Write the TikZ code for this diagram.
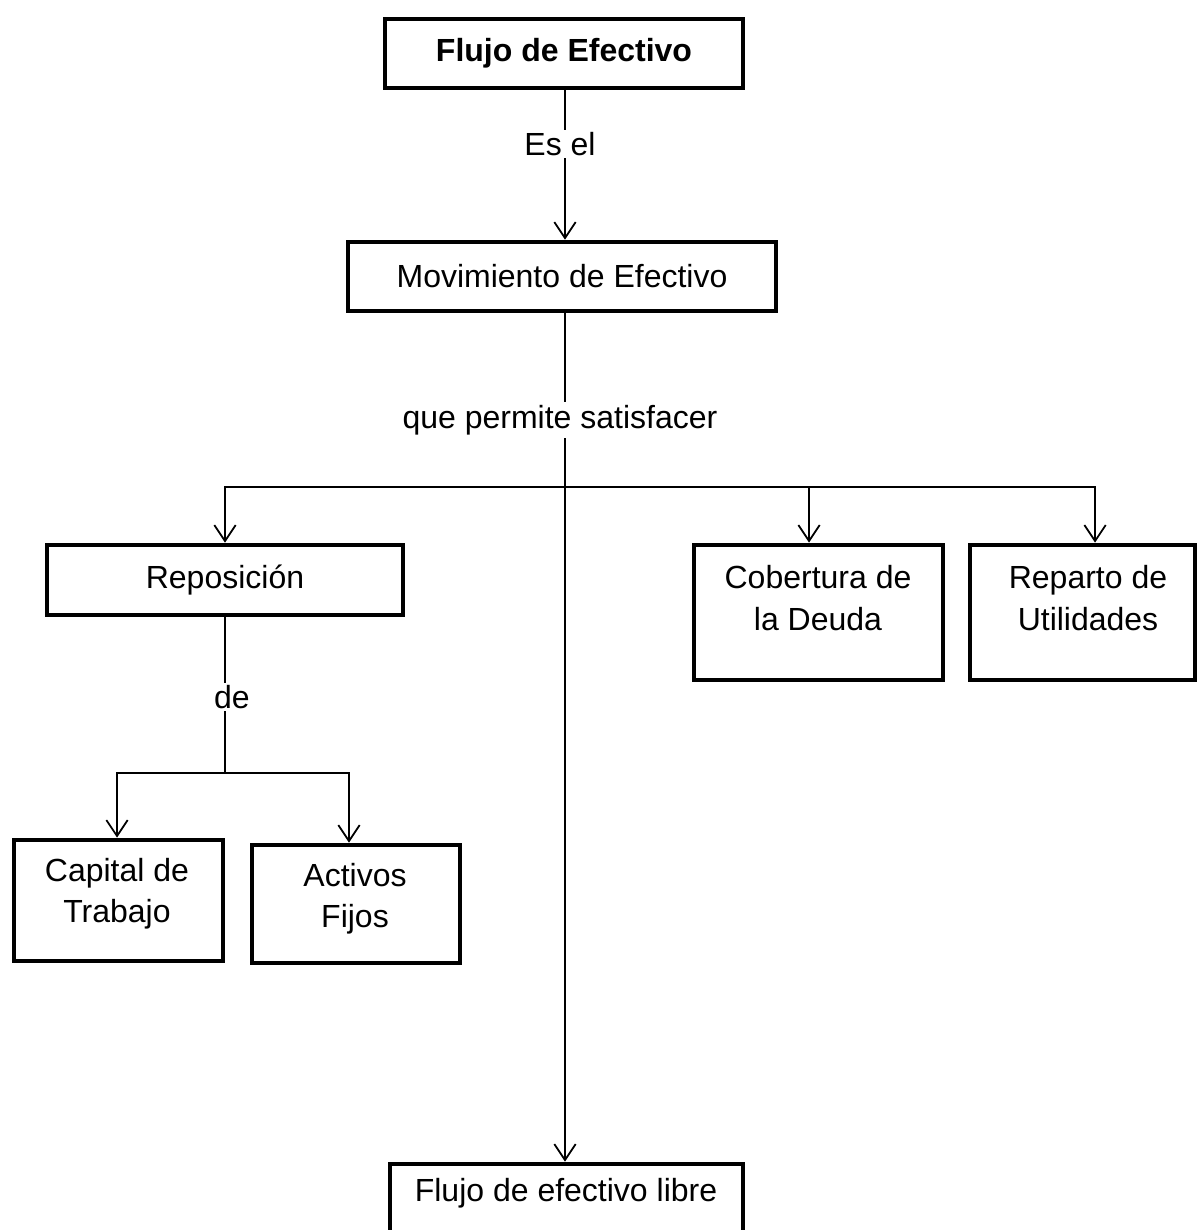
\documentclass[tikz,border=0pt]{standalone}
\usepackage{fontspec}
\setmainfont{Liberation Sans}
\usetikzlibrary{arrows.meta,calc}
\newcommand\diagfont{\fontsize{24}{31}\selectfont}
\begin{document}
\begin{tikzpicture}[x=0.75pt,y=-0.75pt,
  font=\diagfont,
  box/.style={draw,line width=3.5pt,rectangle,inner sep=0pt,align=center},
  txt/.style={align=center,inner sep=0pt},
  lbl/.style={fill=white,inner sep=2pt},
  link/.style={line width=1.35pt},
  arr/.style={link,-{Straight Barb[length=12pt,width=16pt]}}]
\clip (0,0) rectangle (1198,1230);

% boxes
\node[box,minimum width=268.5pt,minimum height=51.75pt,font=\diagfont\bfseries] (flujo) at (564,53.5) {Flujo de Efectivo};
\node[box,minimum width=321pt,minimum height=51.75pt] (mov) at (562,276.5) {Movimiento de Efectivo};
\node[box,minimum width=267pt,minimum height=52.5pt] (repo) at (225,580) {Reposición};
\node[box,minimum width=186.75pt,minimum height=101.25pt] (cob) at (818.5,612.5) {};
\node[txt] (cobtxt) at (818,598) {Cobertura de\\la Deuda};
\node[box,minimum width=168.75pt,minimum height=101.25pt] (rep) at (1082.5,612.5) {};
\node[txt] (reptxt) at (1088,598) {Reparto de\\Utilidades};
\node[box,minimum width=156.75pt,minimum height=90.75pt] (cap) at (118.5,900.5) {};
\node[txt] (captxt) at (117,894) {Capital de\\Trabajo};
\node[box,minimum width=156pt,minimum height=88.5pt] (act) at (356,904) {};
\node[txt] (acttxt) at (355,898.5) {Activos\\Fijos};
\node[box,minimum width=264.75pt,minimum height=72pt] (libre) at (566.5,1212) {};
\node[txt] (libretxt) at (566,1193) {Flujo de efectivo libre};

% main trunk
\coordinate (tx) at (565,0);
\draw[arr] (flujo.south -| tx) -- (mov.north -| tx);
\node[lbl] (esel) at (560,144) {Es el};
\draw[arr] (mov.south -| tx) -- (libre.north -| tx);
\node[lbl] (que) at (560,420) {que permite satisfacer};

% first branching
\coordinate (split) at (565,487);
\draw[arr] (split) -| (repo.north);
\draw[arr] (split) -| ([xshift=-7.1pt]cob.north);
\draw[arr] (split) -| ([xshift=9.4pt]rep.north);

% second branching
\coordinate (split2) at (225,773);
\draw[link] (repo.south) -- (split2);
\node[lbl] (de) at (232,697) {de};
\draw[arr] (split2) -| ([xshift=-1.1pt]cap.north);
\draw[arr] (split2) -| ([xshift=-5.25pt]act.north);
\end{tikzpicture}
\end{document}
